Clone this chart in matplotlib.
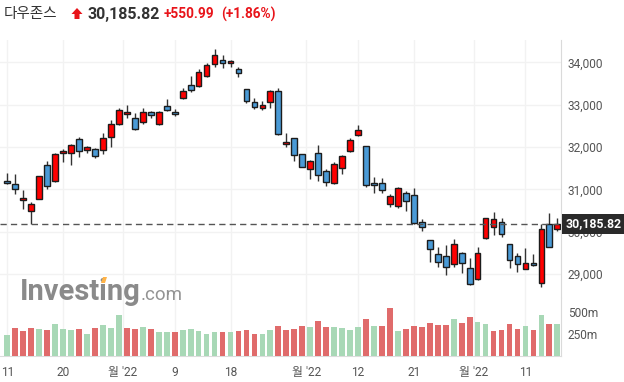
import matplotlib
matplotlib.use("Agg")
import matplotlib.pyplot as plt
from matplotlib.patches import Polygon
import matplotlib.transforms as mtransforms
import numpy as np

plt.rcParams["font.family"] = ["Roboto", "Noto Sans CJK KR", "DejaVu Sans"]

# ---------------------------------------------------------------------------
# Data: Dow Jones daily, 11 Jul - 17 Oct 2022
# ---------------------------------------------------------------------------
opens = [31196, 31118, 30740, 30480, 30778, 31567, 31189, 31851, 31851, 32182,
         31936, 31960, 31922, 32229, 32537, 32780, 32678, 32584, 32820, 32537,
         32962, 32827, 33151, 33466, 33449, 33671, 33955, 34050, 33979, 33837,
         33364, 33057, 32915, 33057, 33317, 32064, 32206, 31827, 31473, 31851,
         31425, 31142, 31496, 31898, 32277, 32017, 31150, 31149, 30645, 30598,
         30905, 30865, 30220, 29794, 29463, 29416, 29227, 29487, 29132, 28872,
         29842, 30102, 30220, 29700, 29423, 29116, 29251, 28778, 30187, 30067]
highs = [31378, 31362, 30983, 30700, 31320, 31669, 31865, 31953, 32060, 32236,
         32030, 31975, 32338, 32638, 32915, 32986, 32797, 32915, 32858, 32840,
         33128, 32891, 33388, 33678, 33844, 33993, 34317, 34175, 34057, 33884,
         33375, 33151, 33095, 33340, 33388, 32338, 32215, 31835, 31693, 32047,
         31473, 31638, 31811, 32206, 32520, 32025, 31298, 31260, 30889, 31061,
         30960, 31024, 30298, 29800, 29629, 29676, 29818, 29525, 29369, 29643,
         30329, 30456, 30329, 29710, 29487, 29605, 29463, 30173, 30433, 30314]
lows = [31130, 30882, 30527, 30170, 30770, 31000, 31180, 31652, 31567, 31757,
        31851, 31733, 31834, 32007, 32530, 32678, 32410, 32537, 32678, 32530,
        32860, 32733, 33140, 33307, 33425, 33648, 33898, 33860, 33898, 33648,
        33033, 32891, 32868, 32915, 32290, 31993, 31667, 31520, 31236, 31203,
        31078, 31125, 31362, 31890, 32270, 31047, 30905, 30905, 30589, 30565,
        30480, 30190, 30007, 29281, 29170, 28967, 29170, 29014, 28731, 28860,
        29835, 29920, 29880, 29147, 29038, 29110, 29190, 28698, 29630, 30014]
closes = [31142, 31000, 30787, 30645, 31307, 31085, 31834, 31905, 32047, 31912,
          31993, 31780, 32206, 32537, 32868, 32827, 32418, 32820, 32749, 32820,
          32868, 32780, 33324, 33347, 33766, 33938, 34175, 33993, 34033, 33742,
          33080, 32938, 32986, 33317, 32300, 32111, 31811, 31534, 31662, 31331,
          31173, 31591, 31780, 32158, 32395, 31095, 31110, 30976, 30842, 31024,
          30716, 30196, 30102, 29596, 29274, 29163, 29700, 29251, 28761, 29487,
          30322, 30298, 29936, 29322, 29227, 29251, 29203, 30054, 29643, 30186]
volumes = [239, 317, 284, 317, 306, 295, 362, 306, 295, 306,
           250, 317, 351, 317, 460, 317, 306, 328, 306, 272,
           272, 272, 295, 306, 284, 250, 272, 272, 272, 284,
           295, 250, 250, 295, 340, 295, 306, 340, 328, 396,
           325, 325, 314, 295, 325, 418, 336, 336, 538, 280,
           303, 336, 325, 370, 347, 347, 415, 370, 437, 381,
           359, 280, 291, 359, 303, 336, 291, 460, 359, 359]   # millions

day_ticks = [0, 7, 21, 28, 44, 51, 65]
day_labels = ["11", "20", "9", "18", "12", "21", "11"]
month_ticks = [14.5, 37.5, 58.5]
month_labels = ["월 '22", "월 '22", "월 '22"]

price_ticks = [29000, 30000, 31000, 32000, 33000, 34000]
vol_ticks = [250, 500]

last_price = 30185.82
change = 550.99
change_pct = 1.86

UP_RED = "#ff0000"
DOWN_BLUE = "#4a9ad6"
VOL_UP = "#a8d8b6"
VOL_DOWN = "#e06b6b"
GRID = "#f2f2f2"
TXT = "#555555"

W, H = 624, 382

# ---------------------------------------------------------------------------
# Figure
# ---------------------------------------------------------------------------
fig = plt.figure(figsize=(W / 100, H / 100), dpi=100)
fig.patch.set_facecolor("white")

ax = fig.add_axes([0, 1 - 298 / H, 561 / W, 258 / H])
axv = fig.add_axes([0, 1 - 356.3 / H, 561 / W, 58.3 / H], sharex=ax)

x = np.arange(len(closes))
o = np.array(opens)
c = np.array(closes)
up = c >= o
body_col = np.where(up, UP_RED, DOWN_BLUE)

ax.vlines(x, lows, highs, color="#333333", lw=1.0, zorder=2)
ax.bar(x, np.maximum(np.abs(c - o), 8), bottom=np.minimum(o, c), width=0.72,
       color=body_col, edgecolor="#1c1c1c", linewidth=1.0, zorder=3)

ax.axhline(last_price, color="#555555", lw=1.0, dashes=(4.5, 3), zorder=4)

ax.set_xlim(-0.916, 69.46)
ax.set_ylim(28430, 34530)

prev = np.concatenate([[c[0] - 1], c[:-1]])
vol_col = np.where(c >= prev, VOL_UP, VOL_DOWN)
axv.bar(x, volumes, width=0.72, color=vol_col, zorder=3)
axv.set_ylim(0, 654)

all_ticks = day_ticks + month_ticks
all_labels = day_labels + month_labels
for a in (ax, axv):
    for xt in all_ticks:
        a.axvline(xt, color=GRID, lw=1.0, zorder=0)
    a.set_facecolor("white")
    for s in ("top", "left"):
        a.spines[s].set_visible(False)
    a.spines["right"].set_color("#dadada")
    a.yaxis.tick_right()
    a.tick_params(axis="y", length=0, pad=5, labelsize=8.6, labelcolor=TXT)

for yt in price_ticks:
    ax.axhline(yt, color=GRID, lw=1.0, zorder=0)
ax.set_yticks(price_ticks)
ax.set_yticklabels([f"{v:,}" for v in price_ticks])
ax.spines["bottom"].set_visible(False)
ax.tick_params(axis="x", bottom=False, labelbottom=False)

axv.set_yticks(vol_ticks)
axv.set_yticklabels([f"{v}m" for v in vol_ticks])
axv.spines["top"].set_color("#c4c4c4")
axv.spines["bottom"].set_color("#dcdcdc")
axv.set_xticks(all_ticks)
axv.set_xticklabels(all_labels)
axv.tick_params(axis="x", length=0, pad=7, labelsize=8.6, labelcolor=TXT)

# last price tag on the axis (box starts right at the axis edge)
pad_pt = 2.6
trans = mtransforms.blended_transform_factory(ax.transAxes, ax.transData)
trans = mtransforms.offset_copy(trans, fig=fig, x=pad_pt + 1, units="points")
ax.text(1.0, last_price, f"{last_price:,.2f}", transform=trans, ha="left",
        va="center", color="white", fontsize=8.8, fontweight="bold", zorder=10,
        clip_on=False,
        bbox=dict(boxstyle=f"square,pad={pad_pt / 8.8:.3f}", fc="#2a2a2a",
                  ec="none"))

# watermark
fig.text(20 / W, 1 - 300 / H, "Investing", fontsize=21, fontweight="bold",
         color="#808080", alpha=0.92, ha="left", va="baseline", zorder=20)
fig.text(141 / W, 1 - 300 / H, ".com", fontsize=13.5, color="#8a8a8a",
         alpha=0.92, ha="left", va="baseline", zorder=20)
fig.patches.append(Polygon([[101 / W, 1 - 283 / H], [105 / W, 1 - 283 / H],
                            [107 / W, 1 - 277 / H], [103 / W, 1 - 277 / H]],
                           closed=True, transform=fig.transFigure,
                           fc="#ffb347", ec="none", zorder=21))

# header
fig.text(4 / W, 1 - 14 / H, "다우존스", fontsize=10.5, color="#333333",
         ha="left", va="center")
arrow = [[71.5, 14], [77, 8], [82.5, 14], [79.5, 14], [79.5, 19],
         [74.5, 19], [74.5, 14]]
fig.patches.append(Polygon([[px / W, 1 - py / H] for px, py in arrow],
                           closed=True, transform=fig.transFigure,
                           fc="#e8141a", ec="none"))
fig.text(87 / W, 1 - 14 / H, f"{last_price:,.2f}", fontsize=11.5,
         fontweight="bold", color="#333333", ha="left", va="center")
fig.text(164 / W, 1 - 14.5 / H, f"+{change:,.2f}", fontsize=9.8,
         fontweight="bold", color="#e8141a", ha="left", va="center")
fig.text(221 / W, 1 - 14.5 / H, f"(+{change_pct:.2f}%)", fontsize=9.8,
         fontweight="bold", color="#e8141a", ha="left", va="center")

fig.savefig("out.png", dpi=100, facecolor="white")
